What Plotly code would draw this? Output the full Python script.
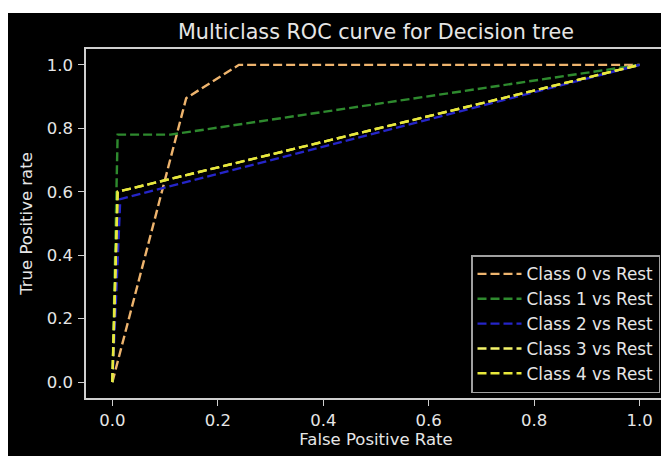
import plotly.graph_objects as go

# Data
class_names = ["Class 0 vs Rest", "Class 1 vs Rest", "Class 2 vs Rest",
               "Class 3 vs Rest", "Class 4 vs Rest"]
fpr_0 = [0.0, 0.14, 0.24, 1.0]
tpr_0 = [0.0, 0.895, 1.0, 1.0]
fpr_1 = [0.0, 0.01, 0.11, 1.0]
tpr_1 = [0.0, 0.78, 0.78, 1.0]
fpr_2 = [0.0, 0.015, 1.0]
tpr_2 = [0.0, 0.577, 1.0]
fpr_3 = [0.0, 0.01, 1.0]
tpr_3 = [0.0, 0.60, 1.0]
fpr_4 = [0.0, 0.01, 1.0]
tpr_4 = [0.0, 0.60, 1.0]
tick_vals = [0.0, 0.2, 0.4, 0.6, 0.8, 1.0]

series = [
    (fpr_0, tpr_0, "#eeb46e"),
    (fpr_1, tpr_1, "#2e8a2e"),
    (fpr_2, tpr_2, "#2525c8"),
    (fpr_3, tpr_3, "#f4f46a"),
    (fpr_4, tpr_4, "#e8e83a"),
]

# The page body adds an 8px white margin; figure coords = reference coords - 8
W, H = 669, 456
OFF = 8
L, T = 86 - OFF, 49 - OFF
R = W - (666 - OFF)
B = H - (398 - OFF)
pw, ph = W - L - R, H - T - B

fig = go.Figure()
for (x, y, c), name in zip(series, class_names):
    fig.add_trace(go.Scatter(
        x=x, y=y, mode="lines", name=name,
        line=dict(color=c, width=2.4, dash="9px,4px"),
    ))

txt = "#e6e6e6"
axis_common = dict(
    showgrid=False, zeroline=False,
    showline=True, mirror=True, linecolor="#cfcfcf", linewidth=1.5,
    ticks="outside", ticklen=6, tickwidth=1.3, tickcolor="#cfcfcf",
    tickvals=tick_vals, tickformat=".1f",
    tickfont=dict(family="DejaVu Sans", size=16.5, color=txt),
    range=[-0.05, 1.05], automargin=False,
)

fig.update_layout(
    width=W, height=H,
    margin=dict(l=L, r=R, t=T, b=B, pad=0),
    paper_bgcolor="black", plot_bgcolor="black",
    font=dict(family="DejaVu Sans", color=txt),
    title=dict(text="Multiclass ROC curve for Decision tree",
               font=dict(family="DejaVu Sans", size=20.7, color=txt),
               x=(L + pw / 2) / W, xanchor="center",
               yref="container", y=(H - (32 - OFF)) / H, yanchor="middle"),
    xaxis=dict(axis_common,
               title=dict(text="False Positive Rate", standoff=3,
                          font=dict(family="DejaVu Sans", size=16.5, color=txt))),
    yaxis=dict(axis_common, ticklabelstandoff=2,
               title=dict(text="True Positive rate", standoff=10,
                          font=dict(family="DejaVu Sans", size=16.5, color=txt))),
    legend=dict(x=(660 - OFF - L) / pw, y=5 / ph, xanchor="right", yanchor="bottom",
                bgcolor="black", bordercolor="#a0a0a0", borderwidth=1.5,
                itemwidth=44, tracegroupgap=0,
                font=dict(family="DejaVu Sans", size=16.8, color=txt)),
    showlegend=True,
)

# white strip at the top of the picture (reference shows 13px of white)
fig.add_shape(type="rect", xref="paper", yref="paper",
              x0=-L / pw, x1=(W - L) / pw,
              y0=(H - (13 - OFF) - B) / ph, y1=(H - B) / ph,
              fillcolor="white", line=dict(width=0), layer="above")

fig.write_html("out.html")
